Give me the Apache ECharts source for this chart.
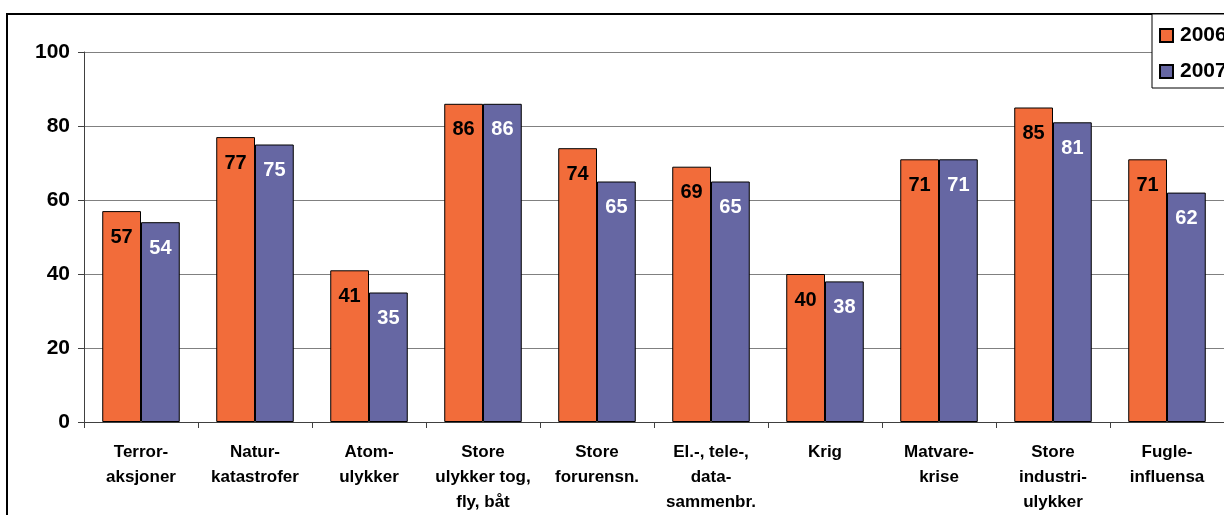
<!DOCTYPE html>
<html>
<head>
<meta charset="utf-8">
<script src="https://cdn.jsdelivr.net/npm/echarts@6/dist/echarts.min.js"></script>
<style>html,body{margin:0;padding:0;background:#fff;overflow:hidden;}#c{width:1224px;height:515px;}</style>
</head>
<body>
<div id="c"></div>
<script>
const categories = ["Terror-\naksjoner","Natur-\nkatastrofer","Atom-\nulykker","Store\nulykker tog,\nfly, båt","Store\nforurensn.","El.-, tele-,\ndata-\nsammenbr.","Krig","Matvare-\nkrise","Store\nindustri-\nulykker","Fugle-\ninfluensa"];
const values2006 = [57,77,41,86,74,69,40,71,85,71];
const values2007 = [54,75,35,86,65,65,38,71,81,62];
const seriesNames = ["2006","2007"];

const chart = echarts.init(document.getElementById('c'));
const font = 'Arial, "Liberation Sans", sans-serif';
chart.setOption({
  animation: false,
  backgroundColor: '#fff',
  graphic: [{
    type: 'rect', z: 0,
    shape: {x: 7, y: 14, width: 1400, height: 700},
    style: {fill: 'none', stroke: '#000', lineWidth: 2}
  }],
  grid: {left: 84, right: 0, top: 52, bottom: 88, containLabel: false},
  legend: {
    orient: 'vertical', left: 1152, top: 14,
    padding: [11, 60, 6, 7],
    itemGap: 15, itemWidth: 13, itemHeight: 13, icon: 'rect',
    backgroundColor: '#fff', borderColor: '#000', borderWidth: 1,
    textStyle: {fontFamily: font, fontWeight: 'bold', fontSize: 21, color: '#000', padding: [0,0,0,2]},
    data: seriesNames
  },
  xAxis: {
    type: 'category', data: categories,
    axisLine: {lineStyle: {color: '#404040', width: 1}},
    axisTick: {show: true, length: 6, lineStyle: {color: '#404040'}},
    axisLabel: {interval: 0, margin: 18, fontFamily: font, fontWeight: 'bold', fontSize: 17, lineHeight: 25, color: '#000'}
  },
  yAxis: {
    type: 'value', min: 0, max: 100, interval: 20,
    axisLine: {show: true, lineStyle: {color: '#404040', width: 1}},
    axisTick: {show: true, length: 6, lineStyle: {color: '#404040'}},
    splitLine: {lineStyle: {color: '#808080', width: 1}},
    axisLabel: {margin: 14, fontFamily: font, fontWeight: 'bold', fontSize: 21, color: '#000'}
  },
  series: [
    {name: seriesNames[0], type: 'bar', data: values2006, barGap: '0%', barCategoryGap: '32%',
     itemStyle: {color: '#F26C3A', borderColor: '#000', borderWidth: 1},
     label: {show: true, position: 'insideTop', distance: 16, fontFamily: font, fontWeight: 'bold', fontSize: 20, color: '#000'}},
    {name: seriesNames[1], type: 'bar', data: values2007, barGap: '0%', barCategoryGap: '32%',
     itemStyle: {color: '#6667A3', borderColor: '#000', borderWidth: 1},
     label: {show: true, position: 'insideTop', distance: 16, fontFamily: font, fontWeight: 'bold', fontSize: 20, color: '#fff'}}
  ]
});
</script>
</body>
</html>
